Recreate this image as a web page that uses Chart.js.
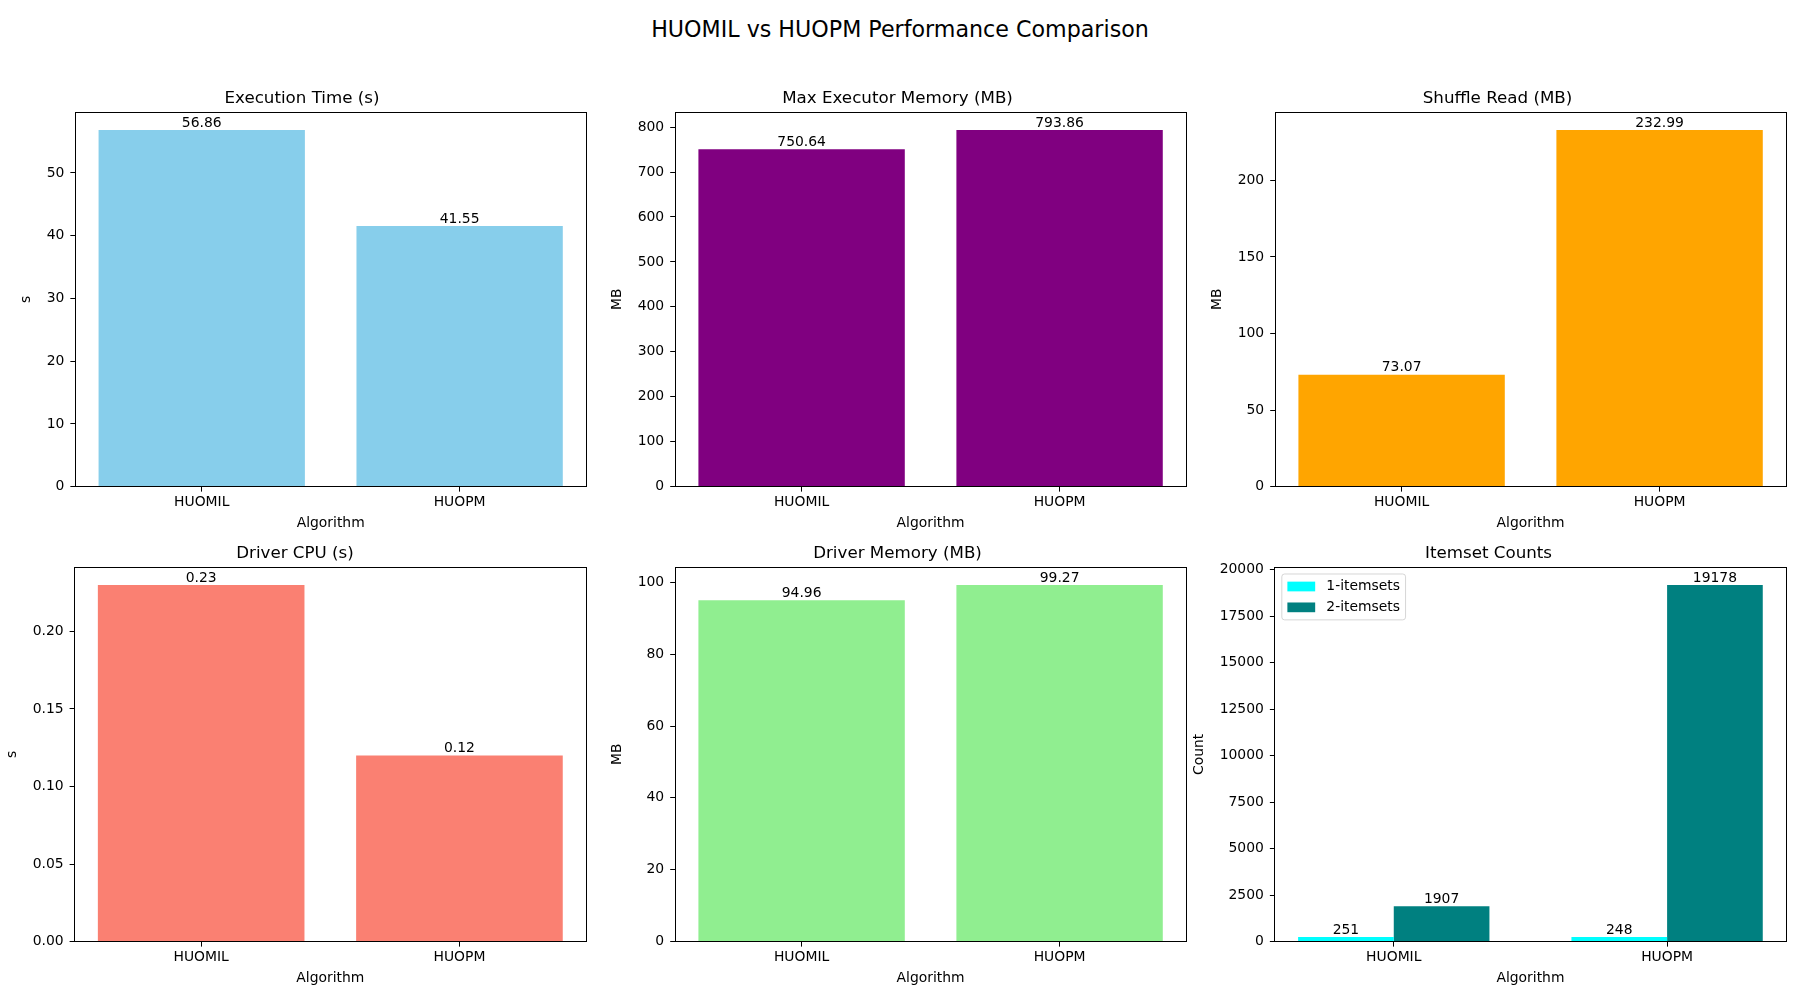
<!DOCTYPE html>
<html>
<head>
<meta charset="utf-8">
<title>HUOMIL vs HUOPM Performance Comparison</title>
<script src="https://cdn.jsdelivr.net/npm/chart.js@4.4.1/dist/chart.umd.min.js"></script>
<style>
  html, body { margin: 0; padding: 0; background: #fff; }
  body { width: 1800px; height: 1000px; position: relative; overflow: hidden; font-family: 'DejaVu Sans', sans-serif; }
  #suptitle { position: absolute; left: 0; top: 18px; width: 1800px; text-align: center; font-size: 22.2px; line-height: 22px; color: #000; }
  canvas { position: absolute; }
</style>
</head>
<body>
<div id="suptitle">HUOMIL vs HUOPM Performance Comparison</div>
<script>
// ---- data ----
const algorithms = ['HUOMIL', 'HUOPM'];
const execTime = [56.86, 41.55];
const maxExecutorMemory = [750.64, 793.86];
const shuffleRead = [73.07, 232.99];
const driverCpu = [0.23, 0.12];
const driverMemory = [94.96, 99.27];
const itemsetNames = ['1-itemsets', '2-itemsets'];
const oneItemsets = [251, 248];
const twoItemsets = [1907, 19178];

// y tick values per panel
const execTicks = [0, 10, 20, 30, 40, 50];
const execMemTicks = [0, 100, 200, 300, 400, 500, 600, 700, 800];
const shuffleTicks = [0, 50, 100, 150, 200];
const cpuTicks = [0, 0.05, 0.10, 0.15, 0.20];
const driverMemTicks = [0, 20, 40, 60, 80, 100];
const countTicks = [0, 2500, 5000, 7500, 10000, 12500, 15000, 17500, 20000];

// ---- layout (plot boxes like the matplotlib grid) ----
const COLS = [75, 675, 1275];
const ROWS = [112, 567];
const AX_W = 511, AX_H = 375;
const FS = 13.9;

Chart.defaults.font.family = "'DejaVu Sans', sans-serif";
Chart.defaults.font.size = FS;
Chart.defaults.color = '#000';

// full box around the plot area (top and right spines too)
const frameBox = {
  id: 'frameBox',
  afterDraw(chart) {
    const { ctx, chartArea: a } = chart;
    const al = p => Math.round(p - 0.5) + 0.5;
    ctx.save();
    ctx.strokeStyle = '#000';
    ctx.lineWidth = 1;
    ctx.strokeRect(al(a.left), al(a.top), al(a.right) - al(a.left), al(a.bottom) - al(a.top));
    ctx.restore();
  }
};

// value written on top of every bar
const barValues = {
  id: 'barValues',
  afterDatasetsDraw(chart, args, opts) {
    const ctx = chart.ctx;
    ctx.save();
    ctx.font = FS + "px 'DejaVu Sans'";
    ctx.fillStyle = '#000';
    ctx.textAlign = 'center';
    ctx.textBaseline = 'bottom';
    chart.data.datasets.forEach((ds, i) => {
      chart.getDatasetMeta(i).data.forEach((bar, j) => {
        ctx.fillText(ds.data[j].y.toFixed(opts.decimals), bar.x, bar.y);
      });
    });
    ctx.restore();
  }
};

// legend drawn inside the plot, upper left
const insideLegend = {
  id: 'insideLegend',
  afterDraw(chart) {
    const { ctx, chartArea: a } = chart;
    const pad = 0.4 * FS, handleW = 2 * FS, handleH = 0.7 * FS, gap = 0.8 * FS, rowH = FS, spacing = 0.5 * FS;
    const sets = chart.data.datasets;
    ctx.save();
    ctx.font = FS + "px 'DejaVu Sans'";
    const textW = Math.max(...sets.map(d => ctx.measureText(d.label).width));
    const x0 = a.left + 0.5 * FS, y0 = a.top + 0.5 * FS;
    const w = pad * 2 + handleW + gap + textW;
    const h = pad * 2 + sets.length * rowH + (sets.length - 1) * spacing;
    ctx.beginPath();
    if (ctx.roundRect) ctx.roundRect(x0, y0, w, h, 0.2 * FS); else ctx.rect(x0, y0, w, h);
    ctx.fillStyle = 'rgba(255,255,255,0.8)';
    ctx.fill();
    ctx.strokeStyle = 'rgba(204,204,204,0.8)';
    ctx.lineWidth = 1;
    ctx.stroke();
    sets.forEach((d, k) => {
      const cy = y0 + pad + rowH / 2 + k * (rowH + spacing);
      ctx.fillStyle = d.backgroundColor;
      ctx.fillRect(x0 + pad, cy - handleH / 2, handleW, handleH);
      ctx.fillStyle = '#000';
      ctx.textAlign = 'left';
      ctx.textBaseline = 'middle';
      ctx.fillText(d.label, x0 + pad + handleW + gap, cy);
    });
    ctx.restore();
  }
};

const axisGrid = { offset: false, drawOnChartArea: false, drawTicks: true, tickLength: 5, color: '#000', tickColor: '#000', lineWidth: 1 };
const axisBorder = { display: true, color: '#000', width: 1 };

function makePanel(o) {
  const canvas = document.createElement('canvas');
  canvas.width = AX_W + 120;
  canvas.height = AX_H + 100;
  document.body.appendChild(canvas);

  const datasets = o.series.map((vals, k) => ({
    label: o.names ? o.names[k] : o.title,
    data: vals.map((v, i) => ({ x: i, y: v })),
    backgroundColor: o.colors[k],
    borderWidth: 0,
    categoryPercentage: o.groupWidth,
    barPercentage: 1
  }));
  const yTop = Math.max(...o.series.flat()) * 1.05;

  const chart = new Chart(canvas, {
    type: 'bar',
    data: { datasets },
    options: {
      responsive: false,
      maintainAspectRatio: false,
      animation: false,
      layout: { padding: { top: 0, right: 3, bottom: 2, left: 0 } },
      plugins: {
        legend: { display: false },
        tooltip: { enabled: false },
        title: {
          display: true, text: o.title, color: '#000',
          font: { size: 16.7, lineHeight: 1.2, weight: 'normal' },
          padding: { top: 0, bottom: 3 }
        },
        barValues: { decimals: o.decimals }
      },
      scales: {
        x: {
          type: 'linear', min: o.xMin, max: o.xMax, offset: false,
          afterBuildTicks: s => { s.ticks = algorithms.map((_, i) => ({ value: i })); },
          ticks: { callback: v => algorithms[v], color: '#000', padding: 2, autoSkip: false, maxRotation: 0 },
          grid: axisGrid,
          border: axisBorder,
          title: { display: true, text: 'Algorithm', color: '#000', padding: { top: 3, bottom: 0 } }
        },
        y: {
          min: 0, max: yTop,
          afterBuildTicks: s => { s.ticks = o.ticks.map(v => ({ value: v })); },
          ticks: { callback: v => v.toFixed(o.tickDecimals), color: '#000', padding: 6, autoSkip: false },
          grid: axisGrid,
          border: axisBorder,
          title: { display: true, text: o.yLabel, color: '#000', padding: { top: 0, bottom: 6 } }
        }
      }
    },
    plugins: o.legend ? [barValues, insideLegend, frameBox] : [barValues, frameBox]
  });

  // size the canvas so the plot area is exactly AX_W x AX_H, then place it
  const a = chart.chartArea;
  const extraW = chart.width - (a.right - a.left);
  const extraH = chart.height - (a.bottom - a.top);
  chart.resize(Math.round(AX_W + extraW), Math.round(AX_H + extraH));
  const b = chart.chartArea;
  canvas.style.left = Math.round(o.left - b.left) + 'px';
  canvas.style.top = Math.round(o.top - b.top) + 'px';
  return chart;
}

const single = { xMin: -0.49, xMax: 1.49, groupWidth: 0.8 };

makePanel(Object.assign({}, single, {
  left: COLS[0], top: ROWS[0], title: 'Execution Time (s)', yLabel: 's',
  series: [execTime], colors: ['#87ceeb'], ticks: execTicks, tickDecimals: 0, decimals: 2
}));
makePanel(Object.assign({}, single, {
  left: COLS[1], top: ROWS[0], title: 'Max Executor Memory (MB)', yLabel: 'MB',
  series: [maxExecutorMemory], colors: ['#800080'], ticks: execMemTicks, tickDecimals: 0, decimals: 2
}));
makePanel(Object.assign({}, single, {
  left: COLS[2], top: ROWS[0], title: 'Shuffle Read (MB)', yLabel: 'MB',
  series: [shuffleRead], colors: ['#ffa500'], ticks: shuffleTicks, tickDecimals: 0, decimals: 2
}));
makePanel(Object.assign({}, single, {
  left: COLS[0], top: ROWS[1], title: 'Driver CPU (s)', yLabel: 's',
  series: [driverCpu], colors: ['#fa8072'], ticks: cpuTicks, tickDecimals: 2, decimals: 2
}));
makePanel(Object.assign({}, single, {
  left: COLS[1], top: ROWS[1], title: 'Driver Memory (MB)', yLabel: 'MB',
  series: [driverMemory], colors: ['#90ee90'], ticks: driverMemTicks, tickDecimals: 0, decimals: 2
}));
makePanel({
  left: COLS[2], top: ROWS[1], title: 'Itemset Counts', yLabel: 'Count',
  xMin: -0.435, xMax: 1.435, groupWidth: 0.7,
  series: [oneItemsets, twoItemsets], names: itemsetNames, colors: ['#00ffff', '#008080'],
  ticks: countTicks, tickDecimals: 0, decimals: 0, legend: true
});
</script>
</body>
</html>
